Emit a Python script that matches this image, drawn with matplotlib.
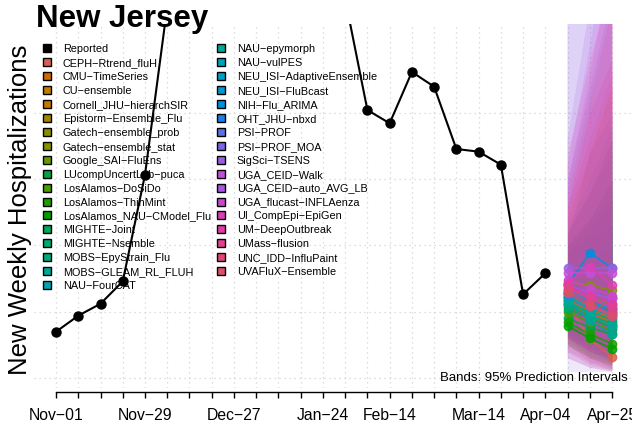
import datetime as dt
import matplotlib
matplotlib.use("Agg")
import matplotlib.pyplot as plt
import matplotlib.dates as mdates
from matplotlib.lines import Line2D

plt.rcParams['font.family'] = ['Liberation Sans', 'DejaVu Sans']

start = dt.date(2025, 11, 1)
n_weeks = 26
weeks = [start + dt.timedelta(days=7 * i) for i in range(n_weeks)]

# observed weekly admissions (values above the plot top are estimates)
reported = [349, 470, 560, 729, 1533, 2800, 3600, 4300, 4600, 4400, 3900,
            3400, 3100, 2860, 2021, 1921, 2308, 2197, 1727, 1707, 1609, 631, 790]

tick_label_dates = [dt.date(2025, 11, 1), dt.date(2025, 11, 29), dt.date(2025, 12, 27),
                    dt.date(2026, 1, 24), dt.date(2026, 2, 14), dt.date(2026, 3, 14),
                    dt.date(2026, 4, 4), dt.date(2026, 4, 25)]

models = ["CEPH−Rtrend_fluH", "CMU−TimeSeries", "CU−ensemble", "Cornell_JHU−hierarchSIR",
          "Epistorm−Ensemble_Flu", "Gatech−ensemble_prob", "Gatech−ensemble_stat",
          "Google_SAI−FluEns", "LUcompUncertLab−puca", "LosAlamos−DoSiDo",
          "LosAlamos−ThinMint", "LosAlamos_NAU−CModel_Flu", "MIGHTE−Joint",
          "MIGHTE−Nsemble", "MOBS−EpyStrain_Flu", "MOBS−GLEAM_RL_FLUH", "NAU−FourCAT",
          "NAU−epymorph", "NAU−vulPES", "NEU_ISI−AdaptiveEnsemble", "NEU_ISI−FluBcast",
          "NIH−Flu_ARIMA", "OHT_JHU−nbxd", "PSI−PROF", "PSI−PROF_MOA", "SigSci−TSENS",
          "UGA_CEID−Walk", "UGA_CEID−auto_AVG_LB", "UGA_flucast−INFLAenza",
          "UI_CompEpi−EpiGen", "UM−DeepOutbreak", "UMass−flusion", "UNC_IDD−InfluPaint",
          "UVAFluX−Ensemble"]

colors = ["#D9604E", "#D16A00", "#C27A00", "#C87400", "#A08600", "#8D8D00", "#7F9300",
          "#629A00", "#00A345", "#4A9B00", "#1A9E00", "#00A000", "#00A65A", "#00A86E",
          "#00A882", "#00A596", "#00A3B3", "#00A89A", "#00A2B8", "#009FC6", "#0098D2",
          "#008FDE", "#1A7FE8", "#5E6FE6", "#7E63E4", "#9A5FE0", "#C44FD6", "#A956E0",
          "#CC47CC", "#DB3FB5", "#E03CA5", "#E14290", "#E0467C", "#D9506A"]

# median forecasts for Apr-11, Apr-18, Apr-25
median = [[560, 294, 158], [600, 480, 400], [620, 520, 450], [580, 500, 420],
          [640, 600, 560], [600, 560, 520], [720, 700, 660], [560, 470, 390],
          [450, 380, 330], [500, 420, 360], [420, 330, 260], [392, 300, 219],
          [520, 450, 380], [540, 470, 410], [560, 500, 440], [580, 430, 330],
          [610, 520, 470], [590, 480, 390], [620, 540, 500], [640, 560, 480],
          [650, 580, 520], [700, 943, 830], [630, 560, 500], [660, 600, 540],
          [700, 650, 600], [830, 830, 830], [790, 790, 790], [700, 640, 600],
          [740, 680, 620], [720, 837, 700], [700, 620, 560], [680, 600, 530],
          [660, 560, 480], [640, 540, 470]]

lower = [[250, 120, 60], [320, 220, 150], [350, 260, 190], [320, 230, 150],
         [420, 340, 270], [330, 260, 190], [450, 380, 320], [330, 250, 180],
         [250, 150, 90], [300, 200, 140], [270, 170, 110], [240, 160, 100],
         [320, 240, 180], [340, 260, 200], [350, 280, 220], [320, 200, 120],
         [300, 200, 130], [320, 220, 150], [370, 290, 240], [380, 280, 200],
         [400, 320, 250], [450, 450, 350], [320, 220, 160], [300, 200, 140],
         [150, 80, 50], [45, 45, 45], [300, 150, 80], [200, 120, 70],
         [300, 200, 150], [350, 300, 200], [150, 80, 50], [300, 200, 130],
         [200, 100, 60], [250, 150, 90]]

upper = [[1000, 1100, 1200], [1000, 1200, 1500], [950, 1150, 1400], [1100, 1400, 1800],
         [950, 1100, 1300], [1000, 1200, 1500], [1050, 1200, 1350], [850, 1000, 1150],
         [1100, 1400, 1700], [800, 950, 1100], [650, 650, 700], [600, 560, 520],
         [800, 850, 900], [820, 900, 1000], [850, 950, 1050], [950, 1050, 1150],
         [1100, 1400, 1800], [1000, 1200, 1500], [950, 1100, 1250], [1000, 1200, 1450],
         [1000, 1150, 1350], [1050, 1700, 2000], [1150, 1500, 1900], [1500, 2200, 2900],
         [2800, 3800, 4800], [3000, 4500, 6000], [1600, 2500, 3500], [1800, 2800, 3800],
         [1500, 2300, 3200], [1300, 2000, 2400], [1700, 2400, 3000], [1300, 1800, 2300],
         [1400, 2100, 2800], [1200, 1700, 2200]]

grid_levels = [0, 500, 1000, 1500, 2000]

W, H = 632, 431
fig = plt.figure(figsize=(W / 100, H / 100), dpi=100)
left_px, top_px, bottom_px = 33.8, 25, 389
px_week = 22.24
ax = fig.add_axes([left_px / W, 1 - bottom_px / H, 1 - left_px / W, (bottom_px - top_px) / H])

d0 = mdates.date2num(start)
ax.set_xlim(d0 - 7, d0 + 7 * ((W - left_px) / px_week - 1))
px_per_unit = 66.3 / 500
ax.set_ylim(-(bottom_px - 379) / px_per_unit, (379 - top_px) / px_per_unit)

ax.set_xticks(weeks)
ax.set_xticklabels([d.strftime("%b−%d") if d in tick_label_dates else "" for d in weeks])
ax.set_yticks(grid_levels)
ax.set_yticklabels([])
ax.grid(True, color="lightgray", linestyle=(0, (1, 3)), linewidth=0.9)
ax.set_axisbelow(True)

for s in ["top", "right", "left"]:
    ax.spines[s].set_visible(False)
ax.spines["bottom"].set_bounds(mdates.date2num(weeks[0]), mdates.date2num(weeks[-1]))
ax.spines["bottom"].set_position(("outward", 3))
ax.spines["bottom"].set_linewidth(1.0)
ax.tick_params(axis="y", length=0)
ax.tick_params(axis="x", length=4, width=1, direction="out", pad=7, labelsize=11.3)

fdates = weeks[-3:]
for lo, hi, c in zip(lower, upper, colors):
    ax.fill_between(fdates, lo, hi, color=c, alpha=0.15, linewidth=0)

ax.plot(weeks[:len(reported)], reported, "-o", color="black", lw=1.5, ms=6.5)

for med, c in zip(median, colors):
    ax.plot(fdates, med, "-o", color=c, lw=1.3, ms=6, alpha=0.85)

fig.text(628 / W, 1 - 378 / H, "Bands: 95% Prediction Intervals", ha="right", va="center", fontsize=9.5)
fig.text(36 / W, 1 - 27 / H, "New Jersey", fontsize=22.5, fontweight="bold", va="baseline")
fig.text(20 / W, 1 - 210 / H, "New Weekly Hospitalizations", rotation=90, ha="center", va="center", fontsize=18.5)

legend_names = ["Reported"] + models
legend_colors = ["black"] + colors
for i, (name, c) in enumerate(zip(legend_names, legend_colors)):
    col, row = divmod(i, 18)
    yy = 1 - (49.3 + row * 13.93) / H
    sx = (47.3 if col == 0 else 221.0) / W
    tx = (62.7 if col == 0 else 236.7) / W
    fig.add_artist(Line2D([sx], [yy], marker="s", ms=5.6, color=c, mec="black", mew=1.0,
                          transform=fig.transFigure))
    fig.text(tx, yy, name, fontsize=7.8, va="center")

fig.savefig("out.png", dpi=100)
